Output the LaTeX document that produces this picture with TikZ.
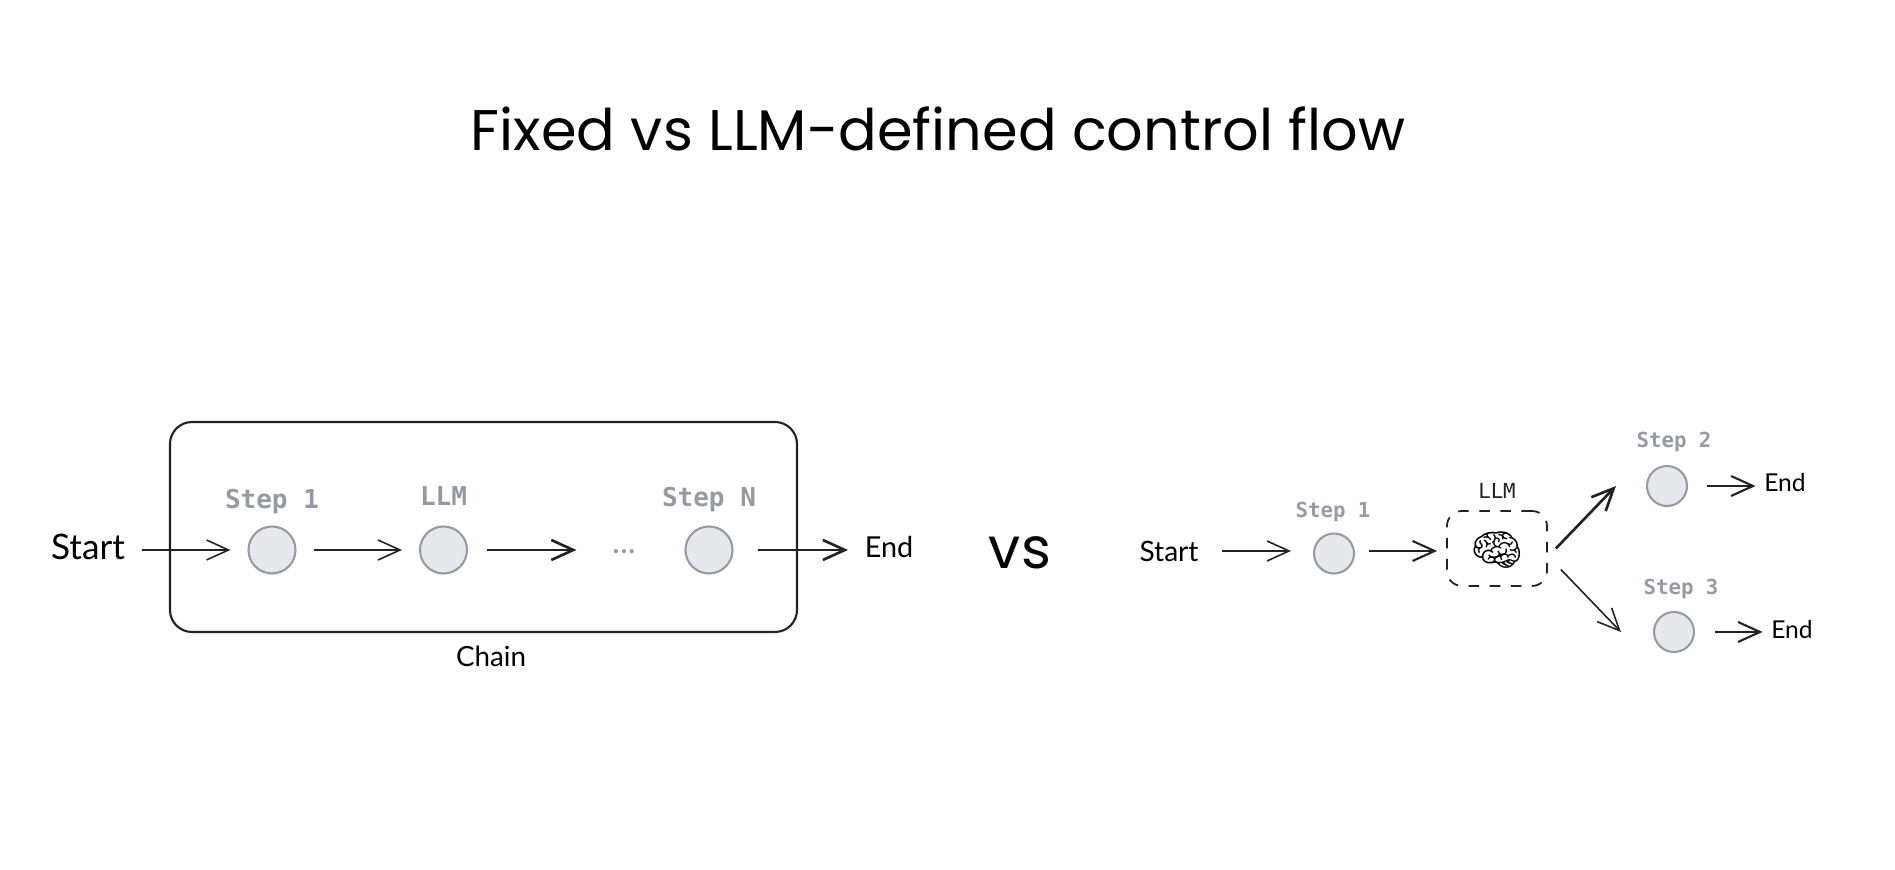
\documentclass[tikz,border=0pt]{standalone}
\usepackage{fontspec}
\setmainfont{Lato}
\newfontfamily\titlefont{Poppins}
\setmonofont{DejaVu Sans Mono}
\newfontfamily\emojifont{Noto Emoji}
\usetikzlibrary{arrows.meta}
\definecolor{stepgray}{HTML}{959BA2}
\definecolor{circlefill}{HTML}{E6E9EC}
\definecolor{inkline}{HTML}{222222}

\begin{document}
\begin{tikzpicture}[
  stepcircle/.style={
    circle,
    draw=stepgray,
    fill=circlefill,
    line width=0.6pt,
    inner sep=0pt,
    minimum size=#1
  },
  steplabel/.style={
    text=stepgray,
    inner sep=0pt,
    font=\ttfamily\bfseries\fontsize{#1}{#1}\selectfont
  },
  hand/.style={
    text=black,
    inner sep=0pt,
    font=\fontsize{#1}{#1}\selectfont
  },
  flowarrow/.style={
    ->,
    draw=inkline,
    line width=0.45pt
  },
  heavyarrow/.style={
    flowarrow,
    line width=0.75pt
  },
  >={Straight Barb[length=2.2mm,width=2mm]}
]
\useasboundingbox (0,0) rectangle (18.95,-8.70);

\node[inner sep=0pt, font=\titlefont\fontsize{16.3}{16.3}\selectfont] (title) at (9.38,-1.29) {Fixed vs LLM-defined control flow};
\node[inner sep=0pt, font=\titlefont\fontsize{16.3}{16.3}\selectfont] (versus) at (10.20,-5.53) {vs};

% left side
\node[draw=inkline, line width=0.6pt, rounded corners=0.22cm, minimum width=6.27cm, minimum height=2.10cm, inner sep=0pt] (chainbox) at (4.835,-5.27) {};
\node[hand=10] (startleft) at (0.88,-5.47) {Start};
\node[stepcircle=0.47cm] (stepa) at (2.72,-5.50) {};
\node[stepcircle=0.47cm] (llmleft) at (4.435,-5.50) {};
\node[stepcircle=0.47cm] (stepn) at (7.09,-5.50) {};
\node[steplabel=7.4] (labela) at (2.72,-5.02) {Step 1};
\node[steplabel=7.4] (labelllm) at (4.435,-4.965) {LLM};
\node[steplabel=7.4] (labeln) at (7.09,-5.00) {Step N};
\node[text=stepgray, inner sep=0pt, font=\fontsize{9.5}{9.5}\selectfont] (dots) at (6.24,-5.52) {...};
\node[hand=8.2] (endleft) at (8.89,-5.47) {End};
\node[hand=7.9] (chainlabel) at (4.91,-6.56) {Chain};

\draw[flowarrow, shorten <=0.16cm, shorten >=0.17cm] (startleft.east |- stepa.west) -- (stepa.west);
\draw[flowarrow, shorten <=0.17cm, shorten >=0.17cm] (stepa.east) -- (llmleft.west);
\draw[heavyarrow, shorten <=0.19cm, shorten >=0.35cm] (llmleft.east) -- (dots.west |- llmleft.west);
\draw[heavyarrow, shorten <=0.24cm, shorten >=0.16cm] (stepn.east) -- (endleft.west |- stepn.east);

% right side
\node[hand=8] (startright) at (11.69,-5.51) {Start};
\node[stepcircle=0.40cm] (stepb) at (13.34,-5.535) {};
\node[steplabel=5.9] (labelb) at (13.33,-5.12) {Step 1};
\node[draw=inkline, dashed, line width=0.5pt, rounded corners=0.15cm, minimum width=1.00cm, minimum height=0.75cm, inner sep=0pt] (llmbox) at (14.97,-5.485) {};
\node[inner sep=0pt, font=\emojifont\fontsize{12}{12}\selectfont] (brain) at (14.97,-5.50) {^^^^^^01f9e0};
\node[steplabel=5.9, text=inkline, font=\ttfamily\fontsize{5.9}{5.9}\selectfont] (labelllmb) at (14.97,-4.91) {LLM};
\node[stepcircle=0.40cm] (stepc) at (16.67,-4.86) {};
\node[steplabel=5.9] (labelc) at (16.74,-4.42) {Step 2};
\node[hand=7] (endc) at (17.85,-4.83) {End};
\node[stepcircle=0.40cm] (stepd) at (16.74,-6.32) {};
\node[steplabel=5.9] (labeld) at (16.81,-5.89) {Step 3};
\node[hand=7] (endd) at (17.92,-6.30) {End};

\draw[flowarrow, shorten <=0.23cm, shorten >=0.22cm] (startright.east) -- (stepb.west |- startright.east);
\draw[flowarrow, line width=0.6pt, shorten <=0.14cm, shorten >=0.09cm] ([yshift=-0.025cm]stepb.east |- llmbox.west) -- ([yshift=-0.025cm]llmbox.west);
\draw[heavyarrow] ([xshift=0.08cm]llmbox.east) -- ([xshift=-0.30cm]stepc.west);
\draw[flowarrow] ([shift={(0.13,-0.21)}]llmbox.east) -- ([shift={(-0.32,0)}]stepd.west);
\draw[flowarrow, line width=0.6pt, shorten <=0.19cm, shorten >=0.08cm] (stepc.east) -- (endc.west |- stepc.east);
\draw[flowarrow, line width=0.6pt, shorten <=0.20cm, shorten >=0.08cm] (stepd.east) -- (endd.west |- stepd.east);
\end{tikzpicture}
\end{document}
